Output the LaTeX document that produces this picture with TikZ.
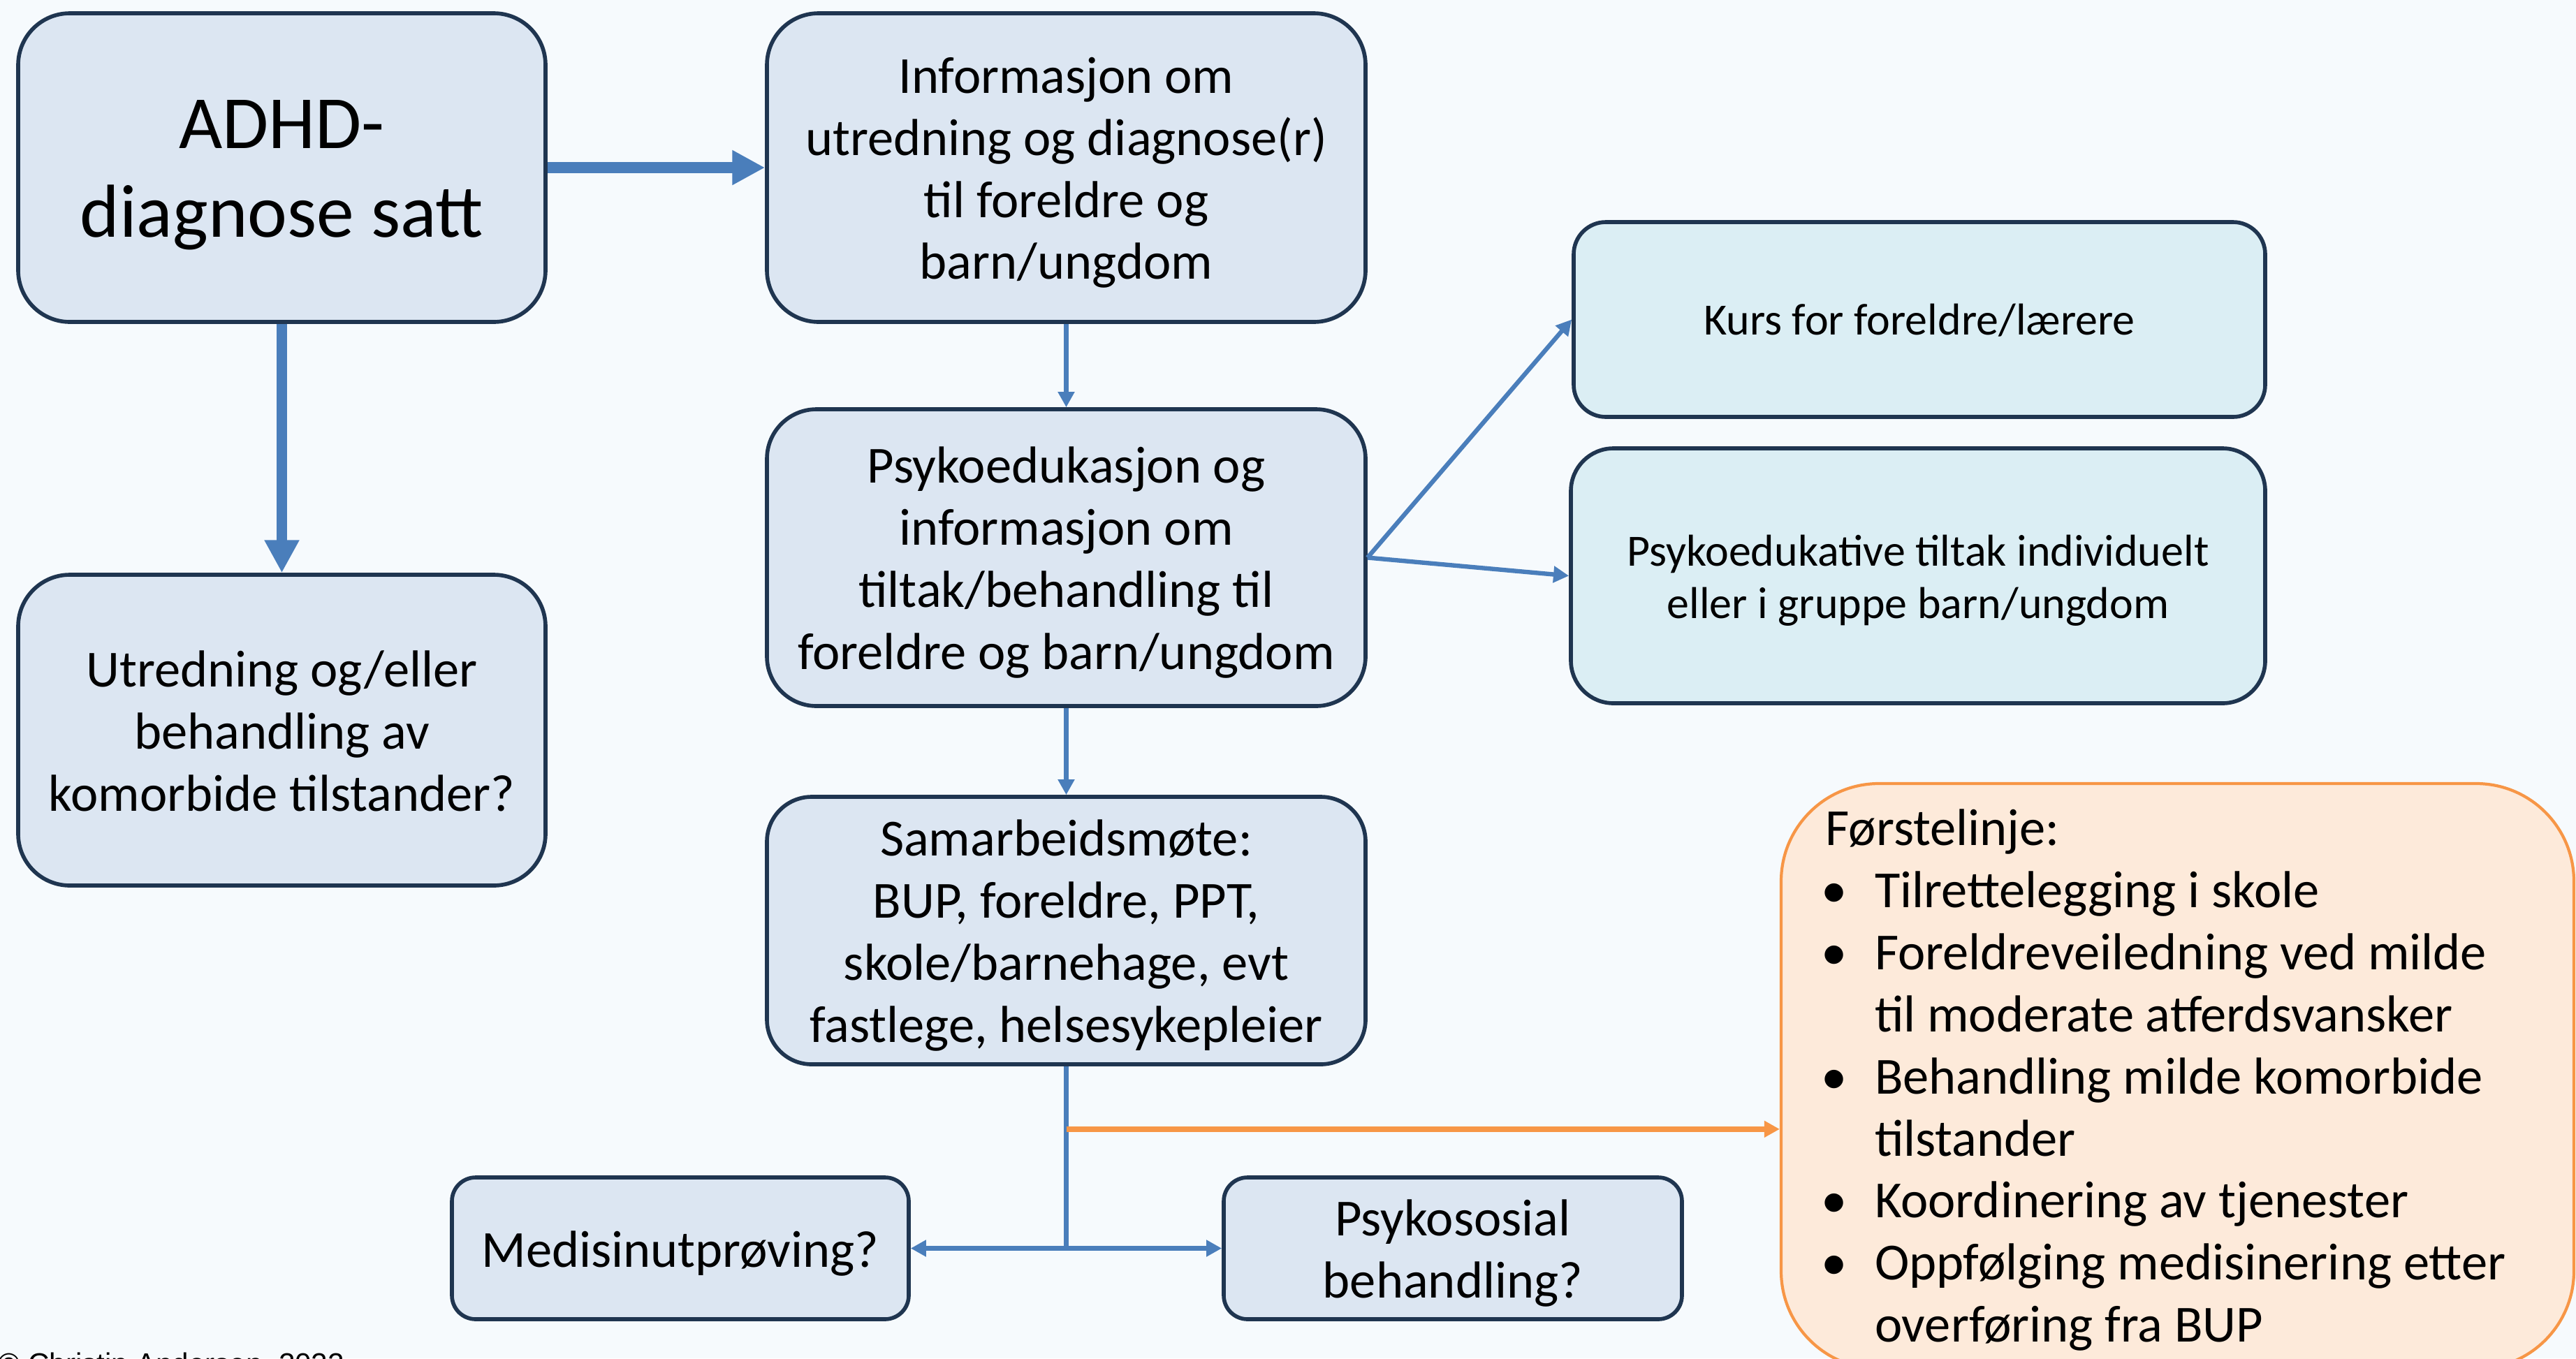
\documentclass[tikz,border=0pt]{standalone}
\usepackage{fontspec}
\setmainfont{Carlito}
\newfontfamily\kildefont{Liberation Sans}
\usetikzlibrary{arrows.meta}
\definecolor{bakgrunn}{HTML}{F6FAFD}
\definecolor{boksfyll}{HTML}{DCE6F2}
\definecolor{kursfyll}{HTML}{DBEEF4}
\definecolor{boksramme}{HTML}{1F3550}
\definecolor{pilblaa}{HTML}{4A7EBB}
\definecolor{oransje}{HTML}{F79646}
\definecolor{oransjefyll}{HTML}{FDEADA}
\newcommand{\storfont}{\fontsize{21.2}{25.3}\selectfont}
\newcommand{\adhdfont}{\fontsize{30.6}{36}\selectfont}
\newcommand{\litenfont}{\fontsize{18.2}{21.3}\selectfont}
\newcommand{\bokstekst}[2][2.5pt]{\raisebox{-#1}[\height][\depth]{\begin{tabular}{@{}c@{}}#2\end{tabular}}}
\tikzset{
  boks/.style={draw=boksramme, fill=boksfyll, line width=1.6pt, inner sep=0pt, font=\storfont},
  tykkpil/.style={draw=pilblaa, line width=4.5pt, -{Triangle[length=13.3pt,width=13.3pt]}},
  tynnpil/.style={draw=pilblaa, line width=2.2pt, -{Triangle[length=6.3pt,width=6.5pt]}},
  oransjepil/.style={draw=oransje, line width=2.2pt, -{Triangle[length=6.3pt,width=6.5pt]}}
}
\begin{document}
\begin{tikzpicture}
  \useasboundingbox[fill=bakgrunn] (0,0) rectangle (36.88,-19.45);
  \node[boks, minimum width=7.55cm, minimum height=4.42cm, rounded corners=0.74cm, font=\adhdfont] (adhd) at (4.035,-2.40) {\bokstekst[3pt]{ADHD-\\diagnose satt}};
  \node[boks, minimum width=8.57cm, minimum height=4.42cm, rounded corners=0.74cm] (info) at (15.265,-2.40) {\bokstekst{Informasjon om\\utredning og diagnose(r)\\til foreldre og\\barn/ungdom}};
  \node[boks, minimum width=8.57cm, minimum height=4.25cm, rounded corners=0.71cm] (psykoed) at (15.265,-7.985) {\bokstekst{Psykoedukasjon og\\informasjon om\\tiltak/behandling til\\foreldre og barn/ungdom}};
  \node[boks, minimum width=8.57cm, minimum height=3.83cm, rounded corners=0.64cm] (samarb) at (15.265,-13.325) {\bokstekst{Samarbeidsm\o te:\\BUP, foreldre, PPT,\\skole/barnehage, evt\\fastlege, helsesykepleier}};
  \node[boks, minimum width=7.55cm, minimum height=4.45cm, rounded corners=0.74cm] (utred) at (4.035,-10.455) {\bokstekst{Utredning og/eller\\behandling av\\komorbide tilstander?}};
  \node[boks, fill=kursfyll, minimum width=9.9cm, minimum height=2.79cm, rounded corners=0.46cm, font=\litenfont] (kurs) at (27.48,-4.575) {\bokstekst[2pt]{Kurs for foreldre/l\ae rere}};
  \node[boks, fill=kursfyll, minimum width=9.94cm, minimum height=3.65cm, rounded corners=0.61cm, font=\litenfont] (tiltak) at (27.46,-8.245) {\bokstekst{Psykoedukative tiltak individuelt\\eller i gruppe barn/ungdom}};
  \node[boks, minimum width=6.54cm, minimum height=2.03cm, rounded corners=0.34cm] (medisin) at (9.74,-17.875) {\bokstekst{Medisinutpr\o ving?}};
  \node[boks, minimum width=6.56cm, minimum height=2.03cm, rounded corners=0.34cm] (psykosos) at (20.80,-17.875) {\bokstekst{Psykososial\\behandling?}};
  \node[draw=oransje, fill=oransjefyll, line width=1.2pt, minimum width=11.35cm, minimum height=8.38cm, rounded corners=1.4cm] (forste) at (31.175,-15.41) {};
  \node[anchor=north west, text width=320pt, inner sep=0pt, align=flush left, font=\storfont] (forstetekst) at (26.13,-11.58) {F\o rstelinje:
    \begin{list}{\makebox[0pt]{\textbullet}}{\setlength{\leftmargin}{20pt}\setlength{\labelwidth}{0pt}\setlength{\labelsep}{16.6pt}\setlength{\topsep}{0pt}\setlength{\itemsep}{0pt}\setlength{\parsep}{0pt}\setlength{\partopsep}{0pt}}
    \item Tilrettelegging i skole
    \item Foreldreveiledning ved milde\\til moderate atferdsvansker
    \item Behandling milde komorbide\\tilstander
    \item Koordinering av tjenester
    \item Oppf\o lging medisinering etter\\overf\o ring fra BUP
    \end{list}};
  \node[anchor=base west, inner sep=0pt, font=\kildefont\fontsize{12}{14}\selectfont] (kilde) at (-0.03,-19.67) {\textcopyright{} Christin Andersen, 2022};
  \coordinate (deling) at (samarb.south |- medisin.east);
  \coordinate (oransjestart) at ([yshift=-0.9cm]samarb.south);
  \draw[tykkpil] (adhd) -- (info);
  \draw[tykkpil] (adhd) -- (utred);
  \draw[tynnpil] (info) -- (psykoed);
  \draw[tynnpil] (psykoed) -- (samarb);
  \draw[tynnpil, line width=1.8pt] (psykoed.east) -- (kurs.west);
  \draw[tynnpil, line width=1.8pt] (psykoed.east) -- (tiltak.west);
  \draw[draw=pilblaa, line width=2.2pt] (samarb.south) -- (deling);
  \draw[tynnpil] (deling) -- (medisin.east);
  \draw[tynnpil] (deling) -- (psykosos.west);
  \draw[oransjepil] (oransjestart) -- (oransjestart -| forste.west);
\end{tikzpicture}
\end{document}
